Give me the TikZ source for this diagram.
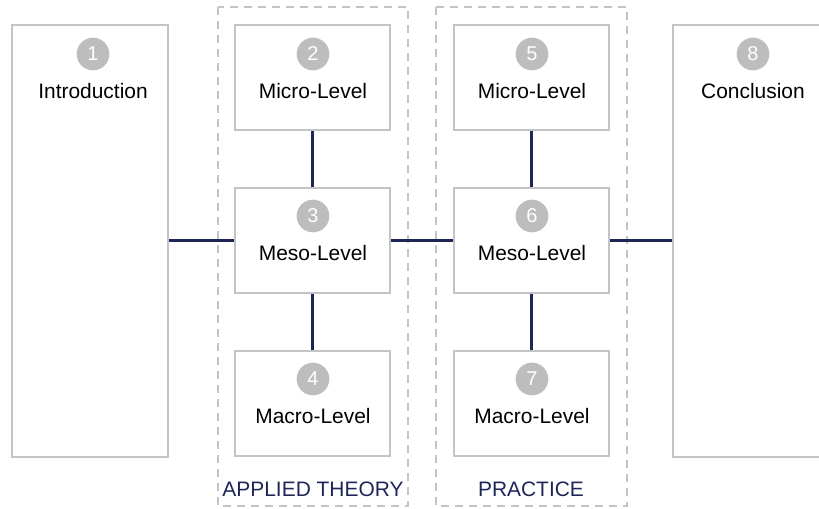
\documentclass[tikz,border=0pt]{standalone}
\usepackage{fontspec}
\setmainfont{Liberation Sans}
\usetikzlibrary{positioning}
\definecolor{boxgray}{HTML}{C4C4C4}
\definecolor{dotgray}{HTML}{BDBDBD}
\definecolor{navy}{HTML}{1E2658}
\tikzset{
  box/.style={draw=boxgray, line width=1.2pt, fill=white, inner sep=0pt,
    minimum width=116.25pt, minimum height=78.75pt},
  bigbox/.style={box, minimum width=117pt, minimum height=324pt},
  group/.style={draw=boxgray, line width=1.3pt, dash pattern=on 6pt off 4.5pt},
  num/.style={circle, fill=dotgray, text=white, inner sep=0pt,
    minimum size=24.5pt, font=\fontsize{15}{17}\selectfont},
  lbl/.style={font=\fontsize{15.7}{18}\selectfont},
  grp/.style={text=navy, font=\fontsize{15.7}{18}\selectfont},
  link/.style={draw=navy, line width=1.6pt}
}
\begin{document}
\begin{tikzpicture}[x=0.75pt,y=-0.75pt]
\useasboundingbox (0,0) rectangle (819,508);
% dashed groups
\draw[group] (218,7) rectangle (408,506);
\draw[group] (436,7) rectangle (627,506);
% boxes
\node[bigbox] (intro) at (90,241) {};
\node[bigbox] (concl) at (751,241) {};
\node[box] (mi2) at (312.5,77.5) {};
\node[box] (me3) at (312.5,240.5) {};
\node[box] (ma4) at (312.5,403.5) {};
\node[box] (mi5) at (531.5,77.5) {};
\node[box] (me6) at (531.5,240.5) {};
\node[box] (ma7) at (531.5,403.5) {};
% connectors
\draw[link] (intro.east |- me3.west) -- (me3.west);
\draw[link] (me3) -- (me6);
\draw[link] (me6.east) -- (concl.west |- me6.east);
\draw[link] (mi2) -- (me3);
\draw[link] (me3) -- (ma4);
\draw[link] (mi5) -- (me6);
\draw[link] (me6) -- (ma7);
\node[box] at (me3) {};
\node[box] at (me6) {};
% numbers and titles
\node[num] (n1) at (93,54) {1};
\node[lbl] (t1) at (93,91) {Introduction};
\node[num] (n2) at (313,54) {2};
\node[lbl] (t2) at (313,91) {Micro-Level};
\node[num] (n3) at (313,216) {3};
\node[lbl] (t3) at (313,253) {Meso-Level};
\node[num] (n4) at (313,379) {4};
\node[lbl] (t4) at (313,416) {Macro-Level};
\node[num] (n5) at (532,54) {5};
\node[lbl] (t5) at (532,91) {Micro-Level};
\node[num] (n6) at (532,216) {6};
\node[lbl] (t6) at (532,253) {Meso-Level};
\node[num] (n7) at (532,379) {7};
\node[lbl] (t7) at (532,416) {Macro-Level};
\node[num] (n8) at (753,54) {8};
\node[lbl] (t8) at (753,91) {Conclusion};
% group labels
\node[grp] (g1) at (313,489) {APPLIED THEORY};
\node[grp] (g2) at (531,489) {PRACTICE};
\end{tikzpicture}
\end{document}
